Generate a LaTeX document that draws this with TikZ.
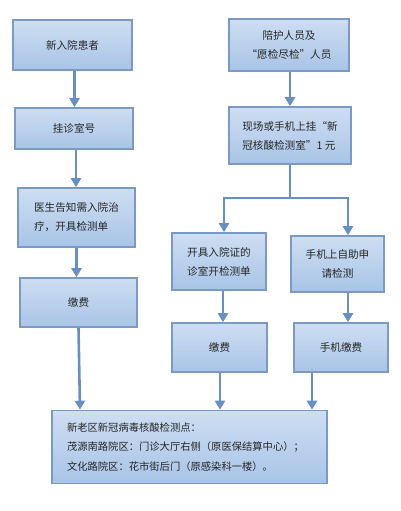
\documentclass[tikz,border=0pt]{standalone}
\usepackage{fontspec}
\newfontfamily\cjk{Noto Sans CJK SC}
\usetikzlibrary{arrows.meta, calc, positioning}
\definecolor{boxtop}{RGB}{206,222,242}
\definecolor{boxbot}{RGB}{168,196,230}
\definecolor{boxline}{RGB}{122,153,196}
\definecolor{arrcol}{RGB}{104,143,194}
\tikzset{
    box/.style = {draw=boxline, line width=1.6pt, top color=boxtop, bottom color=boxbot,
                  font=\cjk\fontsize{10.6}{19}\selectfont, text=black!85, inner sep=0pt},
    flow/.style = {draw=arrcol, line width=2.6pt},
    arr/.style = {flow, -{Triangle[width=10pt,length=9pt]}}
}

\begin{document}
\begin{tikzpicture}[x = 1pt, y = -1pt]

    \useasboundingbox (0,0) rectangle (400,511);

    % Colonna sinistra
    \node[box, minimum width=119pt, minimum height=50pt] (nuovo) at (72.5,45) {新入院患者};
    \node[box, minimum width=118pt, minimum height=41pt] (reg) at (74,128.5) {挂诊室号};
    \node[box, minimum width=117pt, minimum height=59pt, align=left] (medico) at (76.5,217.5)
        {医生告知需入院治\\疗，开具检测单};
    \node[box, minimum width=117pt, minimum height=49pt] (pagaA) at (78.5,302.5) {缴费};

    % Colonna destra
    \node[box, minimum width=120pt, minimum height=52pt, align=center] (accomp) at (289,45)
        {陪护人员及\\“愿检尽检”人员};
    \node[box, minimum width=122pt, minimum height=57pt, align=left] (regB) at (290,135.5)
        {现场或手机上挂“新\\冠核酸检测室”1 元};
    \node[box, minimum width=94pt, minimum height=57pt, align=center] (ambul) at (219,261.5)
        {开具入院证的\\诊室开检测单};
    \node[box, minimum width=93pt, minimum height=56pt, align=center] (cell) at (337.5,264)
        {手机上自助申\\请检测};
    \node[box, minimum width=95pt, minimum height=49pt] (pagaB) at (219.5,347.5) {缴费};
    \node[box, minimum width=94pt, minimum height=49pt] (pagaC) at (341,347.5) {手机缴费};

    % Punto di prelievo
    \node[box, minimum width=275pt, minimum height=73pt, align=left,
          font=\cjk\fontsize{10.3}{19.5}\selectfont, text width=245pt] (punto) at (189.5,447)
        {新老区新冠病毒核酸检测点：\\
         茂源南路院区：门诊大厅右侧（原医保结算中心）；\\
         文化路院区：花市街后门（原感染科一楼）。};

    % Frecce sinistra
    \draw[arr] ([xshift=2pt]nuovo.south) -- ([xshift=2pt]nuovo.south |- reg.north);
    \draw[arr] ([xshift=2pt]reg.south) -- ([xshift=2pt]reg.south |- medico.north);
    \draw[arr] (medico.south) -- (medico.south |- pagaA.north);
    \draw[arr] (pagaA.south) -- ([xshift=1.5pt]pagaA.south |- punto.north);

    % Frecce destra
    \draw[arr] ([xshift=1pt]accomp.south) -- ([xshift=1pt]accomp.south |- regB.north);
    \coordinate (bivio) at (290,198);
    \draw[flow] (regB.south) -- (bivio);
    \draw[arr] (bivio) -| ([xshift=5pt]ambul.north);
    \draw[arr] (bivio) -| ([xshift=10.5pt]cell.north);
    \draw[arr] ([xshift=4pt]ambul.south) -- ([xshift=4pt]ambul.south |- pagaB.north);
    \draw[arr] ([xshift=10.5pt]cell.south) -- ([xshift=10.5pt]cell.south |- pagaC.north);
    \draw[arr] ([xshift=0.5pt]pagaB.south) -- ([xshift=0.5pt]pagaB.south |- punto.north);
    \draw[arr] ([xshift=-29pt]pagaC.south) -- ([xshift=-29pt]pagaC.south |- punto.north);

\end{tikzpicture}
\end{document}
